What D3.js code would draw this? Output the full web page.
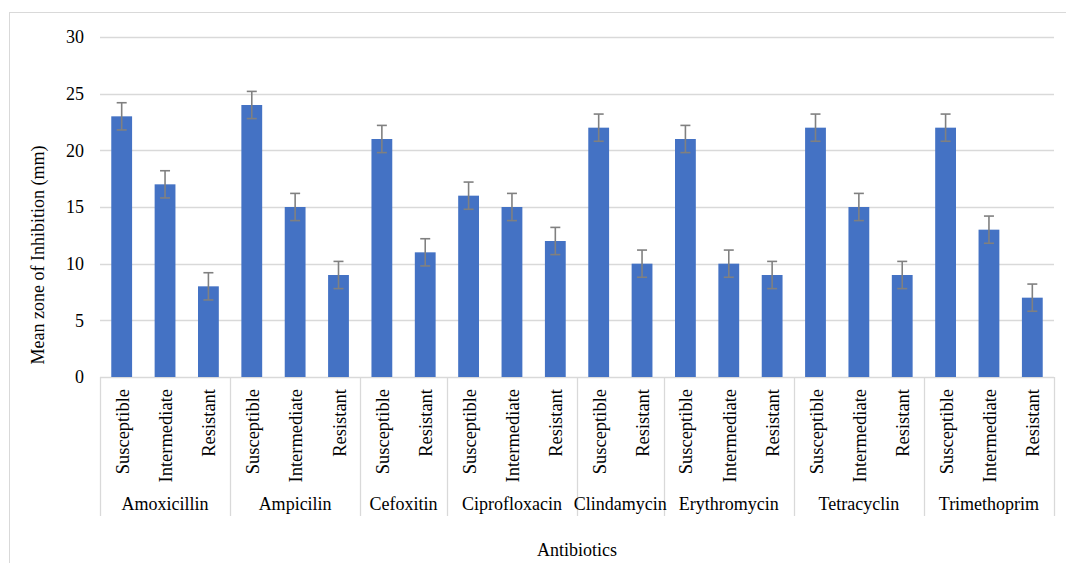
<!DOCTYPE html>
<html>
<head>
<meta charset="utf-8">
<script src="https://cdn.jsdelivr.net/npm/d3@7"></script>
<style>
  body { margin: 0; background: #fff; }
  text { font-family: "Liberation Serif", "Times New Roman", serif; fill: #000; }
</style>
</head>
<body>
<svg id="chart"></svg>
<script>
// data
const antibiotics = ["Amoxicillin", "Ampicilin", "Cefoxitin", "Ciprofloxacin", "Clindamycin", "Erythromycin", "Tetracyclin", "Trimethoprim"];
const categories = [
  ["Susceptible", "Intermediate", "Resistant"],
  ["Susceptible", "Intermediate", "Resistant"],
  ["Susceptible", "Resistant"],
  ["Susceptible", "Intermediate", "Resistant"],
  ["Susceptible", "Resistant"],
  ["Susceptible", "Intermediate", "Resistant"],
  ["Susceptible", "Intermediate", "Resistant"],
  ["Susceptible", "Intermediate", "Resistant"]
];
const meanValues = [
  [23, 17, 8],
  [24, 15, 9],
  [21, 11],
  [16, 15, 12],
  [22, 10],
  [21, 10, 9],
  [22, 15, 9],
  [22, 13, 7]
];
const errorValue = 1.2;
const yTicks = [0, 5, 10, 15, 20, 25, 30];

const width = 1066, height = 563;
const margin = {top: 37, right: 12, bottom: 185, left: 100};

const svg = d3.select("#chart").attr("width", width).attr("height", height);

// chart frame
svg.append("rect")
  .attr("x", 9.5).attr("y", 12.5)
  .attr("width", width + 10).attr("height", height + 10)
  .attr("fill", "none").attr("stroke", "#d9d9d9").attr("stroke-width", 1);

// flatten bars
let bars = [];
antibiotics.forEach((a, gi) => {
  categories[gi].forEach((c, ci) => {
    bars.push({id: gi + "-" + ci, group: a, gi: gi, cat: c, value: meanValues[gi][ci]});
  });
});

const x = d3.scaleBand()
  .domain(bars.map(d => d.id))
  .range([margin.left, width - margin.right])
  .paddingInner(0.52).paddingOuter(0.26);

const y = d3.scaleLinear()
  .domain([0, 30])
  .range([height - margin.bottom - 1, margin.top]);

const step = x.step();
const x0 = margin.left, x1 = width - margin.right;

// gridlines
svg.append("g")
  .selectAll("line")
  .data(yTicks)
  .join("line")
  .attr("x1", x0).attr("x2", x1)
  .attr("y1", d => Math.round(y(d)) + 0.5).attr("y2", d => Math.round(y(d)) + 0.5)
  .attr("stroke", "#d9d9d9").attr("stroke-width", 1.3);

// y tick labels
svg.append("g")
  .selectAll("text")
  .data(yTicks)
  .join("text")
  .attr("x", 84)
  .attr("y", d => y(d))
  .attr("dy", "0.35em")
  .attr("text-anchor", "end")
  .attr("font-size", "18px")
  .text(d => d);

// bars
svg.append("g")
  .selectAll("rect")
  .data(bars)
  .join("rect")
  .attr("x", d => x(d.id))
  .attr("y", d => y(d.value))
  .attr("width", x.bandwidth())
  .attr("height", d => y(0) - y(d.value))
  .attr("fill", "#4472c4");

// error bars
const err = svg.append("g").attr("stroke", "#808080").attr("stroke-width", 1.6);
bars.forEach(d => {
  const cx = x(d.id) + x.bandwidth() / 2;
  const yt = y(d.value + errorValue), yb = y(d.value - errorValue);
  err.append("line").attr("x1", cx).attr("x2", cx).attr("y1", yt).attr("y2", yb);
  err.append("line").attr("x1", cx - 5).attr("x2", cx + 5).attr("y1", yt).attr("y2", yt);
  err.append("line").attr("x1", cx - 5).attr("x2", cx + 5).attr("y1", yb).attr("y2", yb);
});

// category labels (rotated)
svg.append("g")
  .selectAll("text")
  .data(bars)
  .join("text")
  .attr("transform", d => `translate(${x(d.id) + x.bandwidth() / 2 + 7},${y(0) + 12}) rotate(-90)`)
  .attr("text-anchor", "end")
  .attr("font-size", "18.5px")
  .text(d => d.cat);

// group separators and labels
let start = 0;
const bounds = [];
categories.forEach((c, gi) => {
  bounds.push({gi: gi, from: x0 + start * step, to: x0 + (start + c.length) * step});
  start += c.length;
});

const sepX = [x0].concat(bounds.map(b => b.to));
svg.append("g")
  .selectAll("line")
  .data(sepX)
  .join("line")
  .attr("x1", d => Math.round(d) + 0.5).attr("x2", d => Math.round(d) + 0.5)
  .attr("y1", y(0)).attr("y2", 516)
  .attr("stroke", "#d9d9d9").attr("stroke-width", 1.3);

svg.append("g")
  .selectAll("text")
  .data(bounds)
  .join("text")
  .attr("x", d => (d.from + d.to) / 2)
  .attr("y", 510)
  .attr("text-anchor", "middle")
  .attr("font-size", "18px")
  .text(d => antibiotics[d.gi]);

// axis titles
svg.append("text")
  .attr("x", (x0 + x1) / 2)
  .attr("y", 556)
  .attr("text-anchor", "middle")
  .attr("font-size", "18px")
  .text("Antibiotics");

svg.append("text")
  .attr("transform", "translate(44,255) rotate(-90)")
  .attr("text-anchor", "middle")
  .attr("font-size", "18px")
  .text("Mean zone of Inhibition (mm)");
</script>
</body>
</html>
